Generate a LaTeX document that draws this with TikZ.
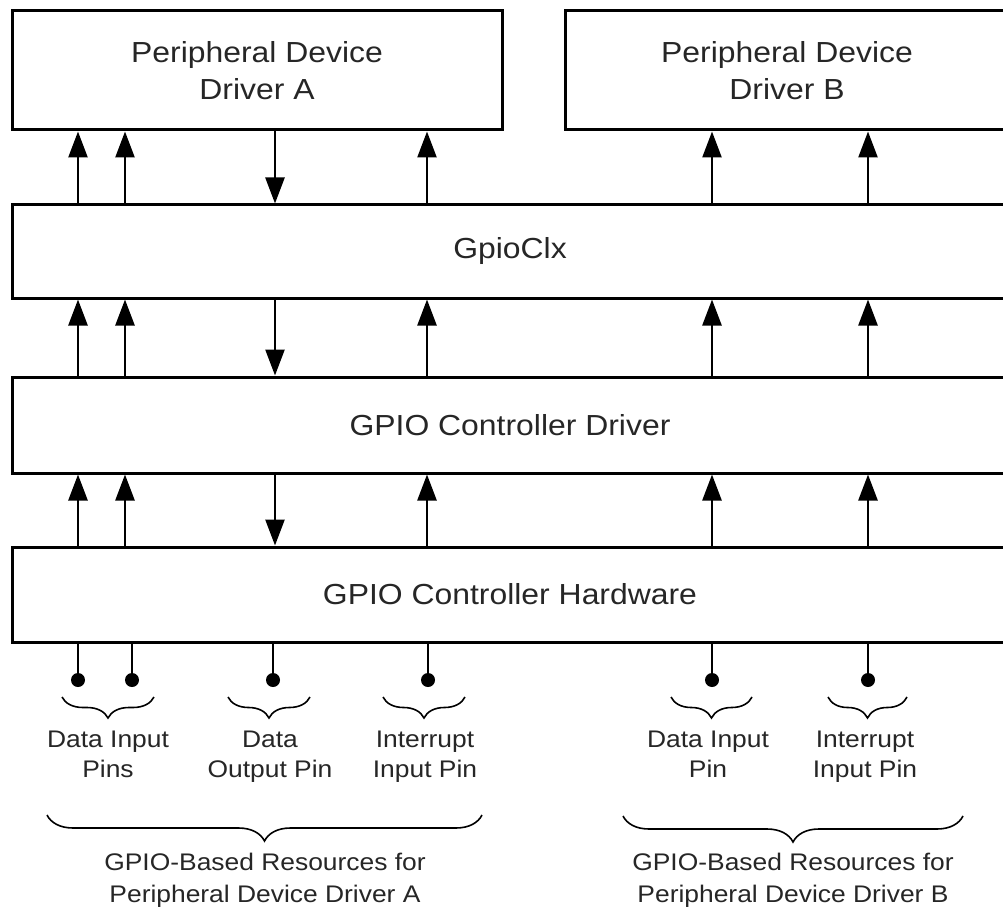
\documentclass[tikz,border=0pt]{standalone}
\usepackage{fontspec}
\setmainfont[FakeStretch=1.1]{Liberation Sans}
\usetikzlibrary{arrows.meta,decorations.pathreplacing}

\begin{document}
\begin{tikzpicture}[x=1pt,y=-1pt,
  layer/.style={draw, line width=3pt, rectangle, inner sep=0pt, align=center,
                text=black!85, font=\fontsize{29}{37}\selectfont},
  flow/.style={line width=2.5pt, -{Triangle[length=26pt,width=19pt]}},
  pinline/.style={line width=2.5pt},
  pinlabel/.style={anchor=north, inner sep=0pt, align=center, text=black!85,
                   font=\fontsize{24}{30}\selectfont},
  grouplabel/.style={anchor=north, inner sep=0pt, align=center, text=black!85,
                     font=\fontsize{24}{32}\selectfont},
  groupbrace/.style={decorate, decoration={brace, mirror, amplitude=#1}, line width=1.6pt},
]
\useasboundingbox (0,0) rectangle (1003,909);
\clip (0,0) rectangle (1003,909);

% layers (the wide ones run past the right edge)
\node[layer, minimum width=490pt, minimum height=119pt] (pdA) at (257,70.5)
  {Peripheral Device\\Driver A};
\node[layer, minimum width=444pt, minimum height=119pt] (pdB) at (787,70.5)
  {Peripheral Device\\Driver B};
\node[layer, minimum width=996pt, minimum height=93pt] (clx) at (510,251.5) {GpioClx};
\node[layer, minimum width=996pt, minimum height=96pt] (drv) at (510,425) {GPIO Controller Driver};
\node[layer, minimum width=996pt, minimum height=95pt] (hw) at (510,594.5) {GPIO Controller Hardware};

% arrow columns
\coordinate (a1) at (78,0);
\coordinate (a2) at (125,0);
\coordinate (a3) at (275,0);
\coordinate (a4) at (427,0);
\coordinate (b1) at (712,0);
\coordinate (b2) at (868,0);

% between driver A/B and GpioClx
\foreach \c in {a1,a2,a4} \draw[flow] (\c |- clx.north) -- (\c |- pdA.south);
\draw[flow] (a3 |- pdA.south) -- (a3 |- clx.north);
\foreach \c in {b1,b2} \draw[flow] (\c |- clx.north) -- (\c |- pdB.south);

% between GpioClx and controller driver, and driver and hardware
\foreach \up/\low in {clx/drv, drv/hw}{
  \foreach \c in {a1,a2,a4,b1,b2} \draw[flow] (\c |- \low.north) -- (\c |- \up.south);
  \draw[flow] (a3 |- \up.south) -- (a3 |- \low.north);
}

% pins
\coordinate (p1) at (78,680);
\coordinate (p2) at (132,680);
\coordinate (p3) at (273,680);
\coordinate (p4) at (428,680);
\coordinate (p5) at (712,680);
\coordinate (p6) at (868,680);
\foreach \p in {p1,p2,p3,p4,p5,p6}{
  \draw[pinline] (\p |- hw.south) -- (\p);
  \fill (\p) circle (7pt);
}

% pin groups
\draw[groupbrace=21pt] (62,697) -- (154,697);
\draw[groupbrace=21pt] (228,697) -- (310,697);
\draw[groupbrace=21pt] (383,697) -- (465,697);
\draw[groupbrace=21pt] (671,697) -- (752,697);
\draw[groupbrace=21pt] (828,697) -- (907,697);

\node[pinlabel] (lDIA) at (108,731) {Data Input\\Pins};
\node[pinlabel] (lDOA) at (270,731) {Data\\Output Pin};
\node[pinlabel] (lIIA) at (425,731) {Interrupt\\Input Pin};
\node[pinlabel] (lDIB) at (708,731) {Data Input\\Pin};
\node[pinlabel] (lIIB) at (865,731) {Interrupt\\Input Pin};

% resource groups
\draw[groupbrace=26pt] (47,815) -- (482,815);
\draw[groupbrace=26pt] (623,816) -- (963,816);

\node[grouplabel] (gA) at (265,853) {GPIO-Based Resources for\\Peripheral Device Driver A};
\node[grouplabel] (gB) at (793,853) {GPIO-Based Resources for\\Peripheral Device Driver B};
\end{tikzpicture}
\end{document}
